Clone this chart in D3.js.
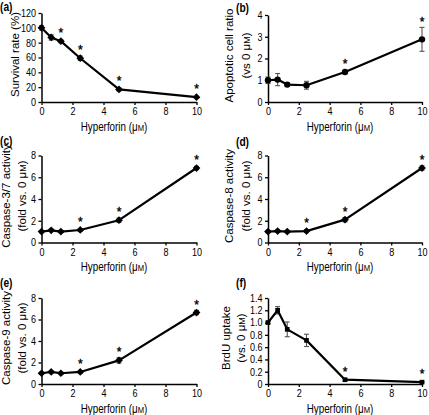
<!DOCTYPE html>
<html>
<head>
<meta charset="utf-8">
<script src="https://cdn.jsdelivr.net/npm/d3@7"></script>
<style>
  html, body { margin: 0; padding: 0; background: #fff; }
  svg { display: block; font-family: "Liberation Sans", Arial, sans-serif; }
  text { fill: #000; }
</style>
</head>
<body>
<svg id="chart" width="429" height="415"></svg>
<script>
// ---- data ----
const xVals = [0, 0.625, 1.25, 2.5, 5, 10];
const xTicks = [0, 2, 4, 6, 8, 10];

const survival = [100, 87, 82, 59, 17, 6.5];
const survivalErr = [3, 3.5, 2, 3, 2, 1];
const survivalStars = [false, false, true, true, true, true];
const survivalTicks = [0, 20, 40, 60, 80, 100, 120];

const apoptotic = [1.0, 1.03, 0.8, 0.77, 1.38, 2.88];
const apoptoticErr = [0.15, 0.28, 0.07, 0.18, 0.05, 0.55];
const apoptoticStars = [false, false, false, false, true, true];
const apoptoticTicks = [0, 1, 2, 3, 4];

const casp37 = [1.0, 1.12, 1.0, 1.15, 2.05, 6.85];
const casp37Err = [0.1, 0.1, 0.1, 0.12, 0.2, 0.15];
const casp37Stars = [false, false, false, true, true, true];

const casp8 = [1.0, 1.05, 1.0, 1.05, 2.1, 6.85];
const casp8Err = [0.1, 0.1, 0.1, 0.1, 0.2, 0.2];
const casp8Stars = [false, false, false, true, true, true];

const casp9 = [1.0, 1.12, 1.0, 1.12, 2.2, 6.65];
const casp9Err = [0.1, 0.1, 0.1, 0.12, 0.25, 0.2];
const casp9Stars = [false, false, false, true, true, true];
const caspTicks = [0, 2, 4, 6, 8];

const brdu = [1.0, 1.2, 0.89, 0.71, 0.07, 0.03];
const brduErr = [0.02, 0.06, 0.12, 0.1, 0.02, 0.01];
const brduStars = [false, false, false, false, true, true];
const brduTicks = [0, 0.2, 0.4, 0.6, 0.8, 1.0, 1.2, 1.4];

// ---- layout ----
const svg = d3.select("#chart");
const FONT_TICK = 10.5, FONT_TITLE = 12, SQX_TICK = 0.86, SQX_TITLE = 0.82;

const panels = [
  {label: "(a)", lx: 0, ly: 11, x0: 41.5, x1: 196.5, yb: 102, yt: 13, ymax: 120,
   vals: survival, err: survivalErr, stars: survivalStars, ticks: survivalTicks, fmt: d => d,
   marker: "diamond", ytitle: ["Survival rate (%)"], ytx: [15]},
  {label: "(b)", lx: 236, ly: 12, x0: 268, x1: 422, yb: 102, yt: 15, ymax: 4,
   vals: apoptotic, err: apoptoticErr, stars: apoptoticStars, ticks: apoptoticTicks, fmt: d => d,
   marker: "circle", ytitle: ["Apoptotic cell ratio", "(vs 0 μM)"], ytx: [229, 246]},
  {label: "(c)", lx: 0, ly: 145, x0: 41.5, x1: 196.5, yb: 242.5, yt: 155.5, ymax: 8,
   vals: casp37, err: casp37Err, stars: casp37Stars, ticks: caspTicks, fmt: d => d,
   marker: "diamond", ytitle: ["Caspase-3/7 activity", "(fold vs. 0 μM)"], ytx: [5.5, 21.5]},
  {label: "(d)", lx: 236, ly: 146, x0: 268, x1: 422, yb: 242.5, yt: 155.5, ymax: 8,
   vals: casp8, err: casp8Err, stars: casp8Stars, ticks: caspTicks, fmt: d => d,
   marker: "diamond", ytitle: ["Caspase-8 activity", "(fold vs. 0 μM)"], ytx: [229, 245.5]},
  {label: "(e)", lx: 0, ly: 287, x0: 41.5, x1: 196.5, yb: 384, yt: 298, ymax: 8,
   vals: casp9, err: casp9Err, stars: casp9Stars, ticks: caspTicks, fmt: d => d,
   marker: "diamond", ytitle: ["Caspase-9 activity", "(fold vs. 0 μM)"], ytx: [5.5, 21.5]},
  {label: "(f)", lx: 236, ly: 287, x0: 268, x1: 422, yb: 384, yt: 298, ymax: 1.4,
   vals: brdu, err: brduErr, stars: brduStars, ticks: brduTicks, fmt: d => d === 0 ? "0" : d.toFixed(1),
   marker: "square", ytitle: ["BrdU uptake", "(vs. 0 μM)"], ytx: [226, 241]}
];

function addMicroM(textSel, str) {
  const parts = str.split("μM");
  textSel.append("tspan").text(parts[0] + "μ");
  textSel.append("tspan").attr("font-size", "0.78em").text("M");
  textSel.append("tspan").text(parts[1]);
}

panels.forEach(p => {
  const x = d3.scaleLinear().domain([0, 10]).range([p.x0, p.x1]);
  const y = d3.scaleLinear().domain([0, p.ymax]).range([p.yb, p.yt]);
  const g = svg.append("g");

  g.append("text")
    .attr("transform", `translate(${p.lx},${p.ly}) scale(0.85,1)`)
    .attr("font-size", 12).attr("font-weight", "bold").text(p.label);

  const xa = g.append("g").attr("transform", `translate(0,${p.yb})`)
    .call(d3.axisBottom(x).tickValues(xTicks).tickSize(3).tickSizeOuter(0).tickPadding(2));
  const ya = g.append("g").attr("transform", `translate(${p.x0},0)`)
    .call(d3.axisLeft(y).tickValues(p.ticks).tickFormat(p.fmt).tickSize(3).tickSizeOuter(0).tickPadding(2.5));
  [xa, ya].forEach(a => {
    a.select(".domain").attr("stroke", "#000").attr("stroke-width", 1.5);
    a.selectAll(".tick line").attr("stroke", "#000").attr("stroke-width", 1.3);
    a.selectAll(".tick text").attr("fill", "#000").attr("font-size", FONT_TICK)
      .attr("font-family", "Liberation Sans, Arial, sans-serif");
  });
  xa.selectAll(".tick text").attr("transform", `scale(${SQX_TICK},1)`).attr("dy", "0.8em");
  ya.selectAll(".tick text").each(function() {
    const t = d3.select(this);
    t.attr("x", +t.attr("x") / SQX_TICK).attr("transform", `scale(${SQX_TICK},1)`);
  });

  const xt = g.append("text")
    .attr("transform", `translate(${(p.x0 + p.x1) / 2 - 5},${p.yb + 28.5}) scale(${SQX_TITLE},1)`)
    .attr("text-anchor", "middle").attr("font-size", FONT_TITLE);
  addMicroM(xt, "Hyperforin (μM)");

  const cy = (p.yb + p.yt) / 2 - 3;
  p.ytitle.forEach((s, i) => {
    const t = g.append("text")
      .attr("transform", `translate(${p.ytx[i]},${cy}) rotate(-90)`)
      .attr("text-anchor", "middle").attr("dy", "0.35em").attr("font-size", 11.5);
    if (s.includes("μM")) addMicroM(t, s); else t.text(s);
  });

  const pts = xVals.map((xv, i) => ({x: xv, y: p.vals[i], e: p.err[i], s: p.stars[i]}));

  const eb = g.append("g").attr("stroke", "#555").attr("stroke-width", 1.1).attr("fill", "none");
  pts.forEach(d => {
    const cx = x(d.x), ylo = y(d.y - d.e), yhi = y(d.y + d.e);
    eb.append("line").attr("x1", cx).attr("x2", cx).attr("y1", ylo).attr("y2", yhi);
    eb.append("line").attr("x1", cx - 2.5).attr("x2", cx + 2.5).attr("y1", ylo).attr("y2", ylo);
    eb.append("line").attr("x1", cx - 2.5).attr("x2", cx + 2.5).attr("y1", yhi).attr("y2", yhi);
  });

  g.append("path").datum(pts)
    .attr("fill", "none").attr("stroke", "#000").attr("stroke-width", 2.2)
    .attr("stroke-linejoin", "round")
    .attr("d", d3.line().x(d => x(d.x)).y(d => y(d.y)));

  pts.forEach(d => {
    if (p.marker === "diamond") {
      g.append("path").attr("d", d3.symbol(d3.symbolSquare, 30)())
        .attr("transform", `translate(${x(d.x)},${y(d.y)}) rotate(45)`).attr("fill", "#000");
    } else if (p.marker === "circle") {
      g.append("circle").attr("cx", x(d.x)).attr("cy", y(d.y)).attr("r", 3.2).attr("fill", "#000");
    } else {
      g.append("path").attr("d", d3.symbol(d3.symbolSquare, 22)())
        .attr("transform", `translate(${x(d.x)},${y(d.y)})`).attr("fill", "#000");
    }
  });

  pts.filter(d => d.s).forEach(d => {
    g.append("text")
      .attr("x", x(d.x)).attr("y", Math.min(y(d.y + d.e), y(d.y) - 3) - 1)
      .attr("text-anchor", "middle").attr("font-size", 12)
      .attr("fill", "#000").attr("stroke", "#000").attr("stroke-width", 0.35)
      .text("*");
  });
});
</script>
</body>
</html>
